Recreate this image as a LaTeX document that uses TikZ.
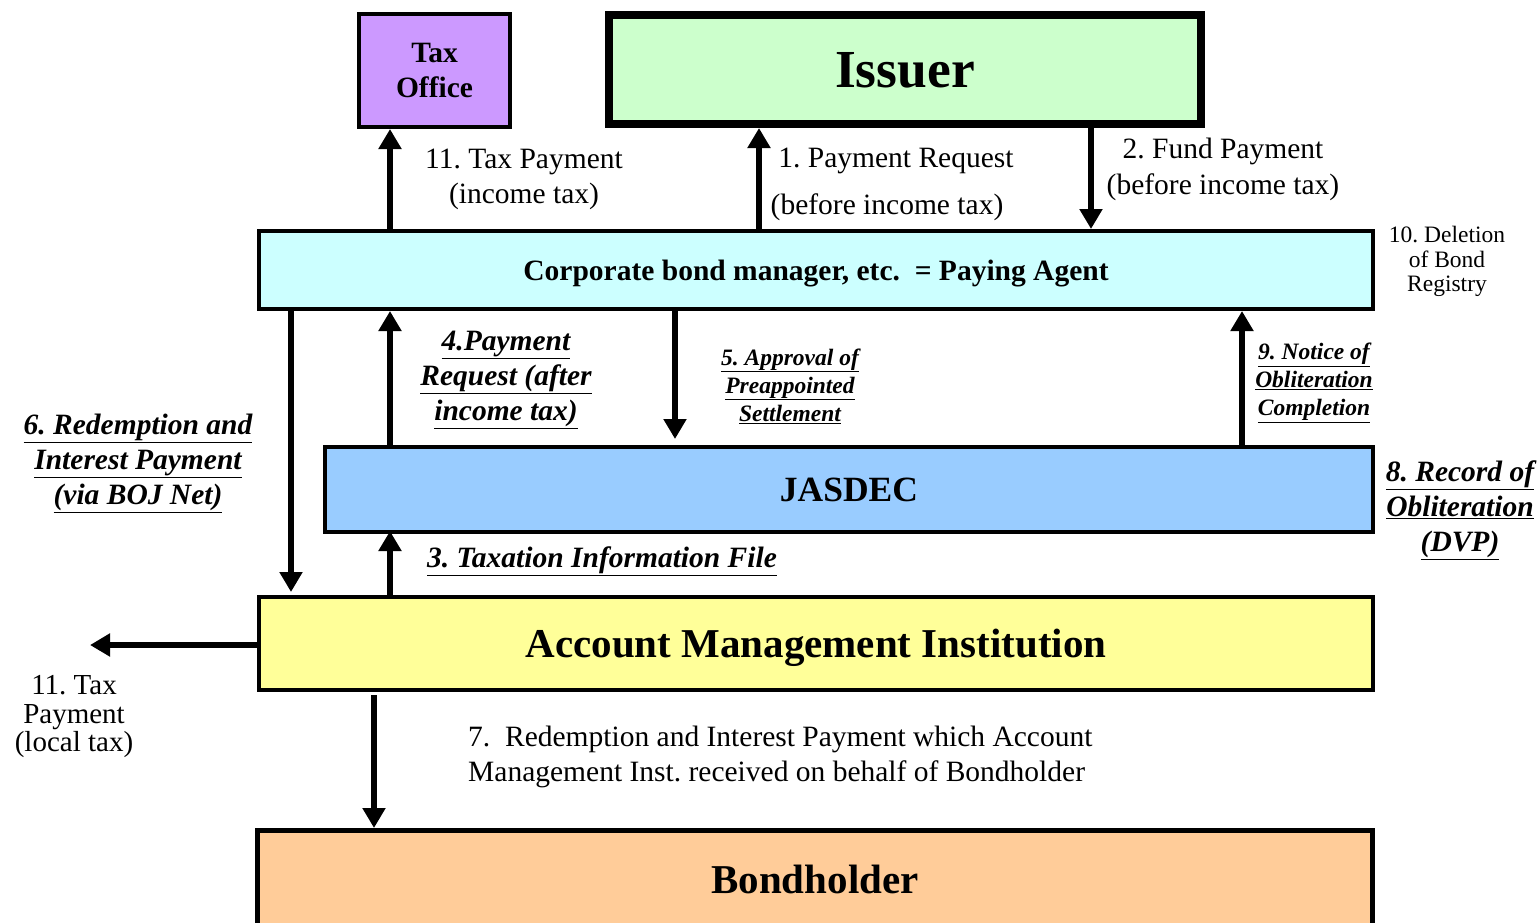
\documentclass[tikz,border=0pt]{standalone}
\usepackage{fontspec}
\setmainfont{Liberation Serif}
\usetikzlibrary{arrows.meta}
\frenchspacing

\newcommand{\fs}[2]{\fontsize{#1}{#2}\selectfont}
\newcommand{\ul}[1]{\underline{#1}}

\begin{document}
\begin{tikzpicture}[x=1pt,y=-1pt,
  box/.style={draw=black,line width=4pt,inner sep=0pt,text depth=0pt,font=\bfseries},
  arr/.style={line width=6pt,-{Triangle[width=22pt,length=20pt]}},
  lbl/.style={inner sep=0pt,align=center,yshift=-3pt},
  ulbl/.style={inner sep=0pt,align=center,yshift=-3pt,font=\bfseries\itshape}]
\useasboundingbox (0,0) rectangle (1540,922);
\begin{scope}
\clip (0,0) rectangle (1540,922);
% boxes
\node[box,fill={rgb,255:red,204;green,153;blue,255},minimum width=151pt,minimum height=113pt,
  font=\bfseries\fs{29.5}{35},align=center] (tax) at (434.5,70.5) {Tax\\Office};
\node[box,line width=8pt,fill={rgb,255:red,204;green,255;blue,204},minimum width=592pt,minimum height=109pt,
  font=\bfseries\fs{53.5}{60}] (issuer) at (905,69.5) {Issuer};
\node[box,fill={rgb,255:red,204;green,255;blue,255},minimum width=1114pt,minimum height=78pt,
  font=\bfseries\fs{29.5}{34}] (pa) at (816,270) {Corporate bond manager, etc.\ \ = Paying Agent};
\node[box,fill={rgb,255:red,153;green,204;blue,255},minimum width=1048pt,minimum height=85pt,
  font=\bfseries\fs{35.5}{40}] (jasdec) at (849,489.5) {JASDEC};
\node[box,fill={rgb,255:red,255;green,255;blue,153},minimum width=1114pt,minimum height=93pt,
  font=\bfseries\fs{41}{48}] (ami) at (816,643.5) {Account Management Institution};
\node[box,line width=5pt,fill={rgb,255:red,255;green,204;blue,153},minimum width=1115pt,minimum height=97pt,
  font=\bfseries\fs{41}{46}] (bond) at (815,879) {Bondholder};
\end{scope}
% columns of the arrows
\coordinate (c1) at (390,0);
\coordinate (c2) at (759,0);
\coordinate (c3) at (1091,0);
\coordinate (c4) at (291,0);
\coordinate (c5) at (675,0);
\coordinate (c6) at (1242,0);
\coordinate (c7) at (374,0);
\coordinate (lt) at (90,645);
% arrows
\draw[arr] (pa.north -| c1) -- (tax.south -| c1);
\draw[arr] (pa.north -| c2) -- (issuer.south -| c2);
\draw[arr] (issuer.south -| c3) -- (pa.north -| c3);
\draw[arr,shorten >=3pt] (pa.south -| c4) -- (ami.north -| c4);
\draw[arr] (jasdec.north -| c1) -- (pa.south -| c1);
\draw[arr,shorten >=6pt] (pa.south -| c5) -- (jasdec.north -| c5);
\draw[arr] (jasdec.north -| c6) -- (pa.south -| c6);
\draw[arr,shorten >=-3pt] (ami.north -| c1) -- (jasdec.south -| c1);
\draw[arr] (ami.west |- lt) -- (lt);
\draw[arr,shorten <=3pt] (ami.south -| c7) -- (bond.north -| c7);
% labels
\node[lbl,font=\fs{29.5}{35}] (l11) at (524,176.5) {11. Tax Payment\\(income tax)};
\node[lbl,font=\fs{29.5}{35}] (l1a) at (896,158) {1. Payment Request};
\node[lbl,font=\fs{29.5}{35}] (l1b) at (887,204) {(before income tax)};
\node[lbl,font=\fs{29.5}{36}] (l2) at (1223,166) {2. Fund Payment\\(before income tax)};
\node[lbl,font=\fs{23.5}{24.5}] (l10) at (1447,258.5) {10. Deletion\\of Bond\\Registry};
\node[ulbl,font=\bfseries\itshape\fs{29.5}{35}] (l4) at (506,377) {\ul{4.Payment}\\\ul{Request (after}\\\ul{income tax)}};
\node[ulbl,font=\bfseries\itshape\fs{23.5}{28}] (l5) at (790,383) {\ul{5. Approval of}\\\ul{Preappointed}\\\ul{Settlement}};
\node[ulbl,font=\bfseries\itshape\fs{23.5}{28}] (l9) at (1314,380) {\ul{9. Notice of}\\\ul{Obliteration}\\\ul{Completion}};
\node[ulbl,font=\bfseries\itshape\fs{29.5}{35}] (l6) at (138,460) {\ul{6. Redemption and}\\\ul{Interest Payment}\\\ul{(via BOJ Net)}};
\node[ulbl,font=\bfseries\itshape\fs{29.5}{35}] (l8) at (1460,507) {\ul{8. Record of}\\\ul{Obliteration}\\\ul{(DVP)}};
\node[ulbl,font=\bfseries\itshape\fs{29.5}{35}] (l3) at (602,558) {\ul{3. Taxation Information File}};
\node[lbl,font=\fs{29}{28.5}] (l11b) at (74,714) {11. Tax\\Payment\\(local tax)};
\node[lbl,align=left,anchor=west,font=\fs{29.5}{35}] (l7) at (468,753.5)
  {7.\ \ Redemption and Interest Payment which Account\\Management Inst. received on behalf of Bondholder};
\end{tikzpicture}
\end{document}
